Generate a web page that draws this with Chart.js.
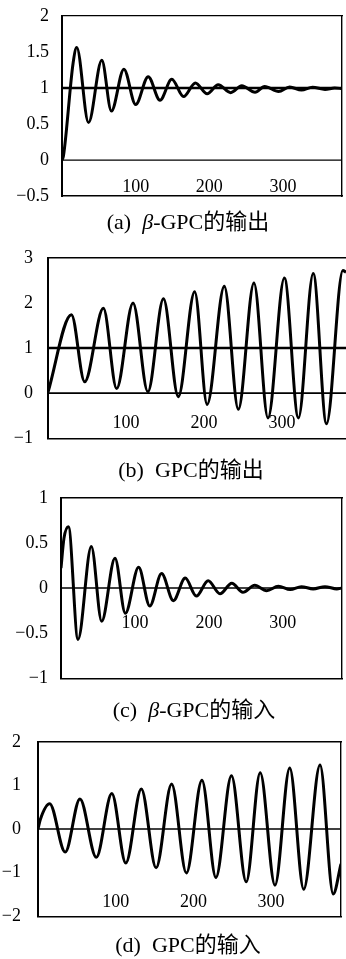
<!DOCTYPE html>
<html>
<head>
<meta charset="utf-8">
<script src="https://cdn.jsdelivr.net/npm/chart.js@4.4.1/dist/chart.umd.min.js"></script>
<style>
  html, body { margin: 0; padding: 0; background: #fff; }
  body { width: 346px; height: 959px; position: relative; overflow: hidden; }
  .panel { position: absolute; left: 0; width: 346px; }
  .caption {
    position: absolute;
    font-family: "Liberation Serif", "Noto Sans CJK SC", serif;
    font-size: 22px;
    line-height: 26px;
    white-space: pre;
    color: #000;
    transform: translateX(-50%);
  }
</style>
</head>
<body>
<div class="panel" style="top:0px"><canvas id="chartA" width="346" height="212"></canvas></div>
<div class="caption" style="left:188px; top:209px">(a)  <i>β</i>-GPC的输出</div>

<div class="panel" style="top:240px"><canvas id="chartB" width="346" height="216"></canvas></div>
<div class="caption" style="left:191px; top:457px">(b)  GPC的输出</div>

<div class="panel" style="top:482px"><canvas id="chartC" width="346" height="212"></canvas></div>
<div class="caption" style="left:194px; top:697px">(c)  <i>β</i>-GPC的输入</div>

<div class="panel" style="top:722px"><canvas id="chartD" width="346" height="214"></canvas></div>
<div class="caption" style="left:188px; top:932px">(d)  GPC的输入</div>

<script>
/* =========================
   DATA
========================= */
const X_TICKS = [100, 200, 300];

// (a) beta-GPC output
const aX = [0, 2, 15, 20, 36, 54, 67, 84, 100, 117, 133, 149, 165, 181, 197, 212, 229, 244, 262, 275, 294, 309, 325, 340, 357, 370, 380];
const aY = [0.0, 0.06, 1.34, 1.56, 0.52, 1.385, 0.68, 1.26, 0.77, 1.155, 0.83, 1.12, 0.88, 1.07, 0.92, 1.045, 0.935, 1.03, 0.94, 1.02, 0.95, 1.015, 0.97, 1.01, 0.98, 1.0, 0.99];
const aLevels = [1, 0];

// (b) GPC output
const bX = [0, 30, 47, 71, 88, 109, 128, 148, 167, 188, 204, 226, 244, 264, 282, 303, 321, 340, 357, 378, 382];
const bY = [0.02, 1.74, 0.25, 1.88, 0.1, 2.0, 0.03, 2.09, -0.08, 2.25, -0.25, 2.37, -0.36, 2.44, -0.55, 2.55, -0.55, 2.65, -0.68, 2.72, 2.68];
const bLevels = [1, 0];

// (c) beta-GPC input
const cX = [0, 4, 10, 23, 41, 55, 73, 87, 105, 120, 136, 152, 168, 183, 199, 215, 231, 246, 262, 278, 294, 310, 325, 341, 357, 373, 380];
const cY = [0.22, 0.55, 0.68, -0.57, 0.46, -0.37, 0.33, -0.28, 0.23, -0.2, 0.16, -0.14, 0.11, -0.09, 0.08, -0.065, 0.054, -0.047, 0.03, -0.03, 0.02, -0.018, 0.015, -0.01, 0.015, -0.01, 0.0];
const cLevels = [0];

// (d) GPC input
const dX = [0, 3, 15, 35, 54, 75, 95, 113, 133, 152, 172, 191, 211, 229, 249, 268, 286, 305, 324, 342, 363, 380, 390];
const dY = [0.0, 0.22, 0.58, -0.53, 0.69, -0.65, 0.815, -0.78, 0.92, -0.89, 1.03, -1.01, 1.12, -1.11, 1.22, -1.21, 1.29, -1.29, 1.40, -1.38, 1.47, -1.49, -0.8];
const dLevels = [0];

/* =========================
   HELPERS
========================= */
const INK = "#000";
const SERIF = "'Liberation Serif', 'Times New Roman', serif";

function fmt(v) {
  return v < 0 ? "\u2212" + Math.abs(v) : String(v);
}

function makeChart(id, cfg) {
  const ctx = document.getElementById(id).getContext("2d");

  // flat reference lines (levels) first, then the response curve
  const datasets = cfg.levels.map((lv, i) => ({
    data: [{ x: cfg.xMin, y: lv }, { x: cfg.xMax, y: lv }],
    borderColor: INK,
    borderWidth: cfg.levelWidths[i],
    pointRadius: 0
  }));

  datasets.push({
    data: cfg.xs.map((x, i) => ({ x, y: cfg.ys[i] })),
    borderColor: INK,
    borderWidth: 3,
    pointRadius: 0,
    cubicInterpolationMode: "monotone"
  });

  const b = cfg.borders;

  return new Chart(ctx, {
    type: "line",
    data: { datasets },
    options: {
      responsive: false,
      animation: false,
      devicePixelRatio: 1,
      layout: { padding: cfg.pad },
      plugins: { legend: { display: false }, tooltip: { enabled: false } },
      scales: {
        x: {
          type: "linear",
          min: cfg.xMin,
          max: cfg.xMax,
          grid: { display: false, drawTicks: false },
          border: { color: INK, width: b.bottom[0], dash: b.bottom[1] },
          ticks: { mirror: true, padding: cfg.xLabelPad, color: INK, font: { family: SERIF, size: 18 } },
          afterBuildTicks: s => { s.ticks = X_TICKS.map(v => ({ value: v })); },
          afterFit: s => { s.height = 0; }
        },
        y: {
          min: cfg.yMin,
          max: cfg.yMax,
          grid: { display: false },
          border: { color: INK, width: b.left[0], dash: b.left[1] },
          ticks: { stepSize: cfg.yStep, padding: cfg.yLabelPad, color: INK, font: { family: SERIF, size: 18 }, callback: fmt },
          afterFit: s => { s.width = cfg.left; }
        },
        xTop: {
          type: "linear",
          position: "top",
          min: cfg.xMin,
          max: cfg.xMax,
          grid: { display: false },
          ticks: { display: false },
          border: { color: INK, width: b.top[0], dash: b.top[1] },
          afterFit: s => { s.height = 0; }
        },
        yRight: {
          position: "right",
          min: cfg.yMin,
          max: cfg.yMax,
          display: b.right[0] > 0,
          grid: { display: false },
          ticks: { display: false },
          border: { color: INK, width: b.right[0], dash: b.right[1] },
          afterFit: s => { s.width = 0; }
        }
      }
    }
  });
}

/* =========================
   PANELS
========================= */
makeChart("chartA", {
  xs: aX, ys: aY, levels: aLevels, levelWidths: [2.4, 1.4],
  xMin: 0, xMax: 380, yMin: -0.5, yMax: 2, yStep: 0.5,
  left: 62, pad: { top: 12, bottom: 11, right: 4, left: 0 },
  xLabelPad: -2, yLabelPad: 5,
  borders: { left: [2, []], bottom: [1.6, []], top: [1.2, [2, 3]], right: [1.4, [7, 3]] }
});

makeChart("chartB", {
  xs: bX, ys: bY, levels: bLevels, levelWidths: [2.6, 1.8],
  xMin: 0, xMax: 382, yMin: -1, yMax: 3, yStep: 1,
  left: 48, pad: { top: 14, bottom: 9, right: 0, left: 0 },
  xLabelPad: 4, yLabelPad: 7,
  borders: { left: [2, []], bottom: [1.4, [3, 3]], top: [1.4, [3, 2]], right: [0, []] }
});

makeChart("chartC", {
  xs: cX, ys: cY, levels: cLevels, levelWidths: [1.6],
  xMin: 0, xMax: 380, yMin: -1, yMax: 1, yStep: 0.5,
  left: 61, pad: { top: 13, bottom: 12, right: 4, left: 0 },
  xLabelPad: 44, yLabelPad: 5,
  borders: { left: [2, []], bottom: [1.4, [2, 2]], top: [1.6, []], right: [1.4, [6, 3]] }
});

makeChart("chartD", {
  xs: dX, ys: dY, levels: dLevels, levelWidths: [1.6],
  xMin: 0, xMax: 390, yMin: -2, yMax: 2, yStep: 1,
  left: 38, pad: { top: 14, bottom: 10, right: 5, left: 0 },
  xLabelPad: 3, yLabelPad: 9,
  borders: { left: [2, []], bottom: [1.4, [3, 2]], top: [1.4, [3, 2]], right: [1.4, []] }
});
</script>
</body>
</html>
